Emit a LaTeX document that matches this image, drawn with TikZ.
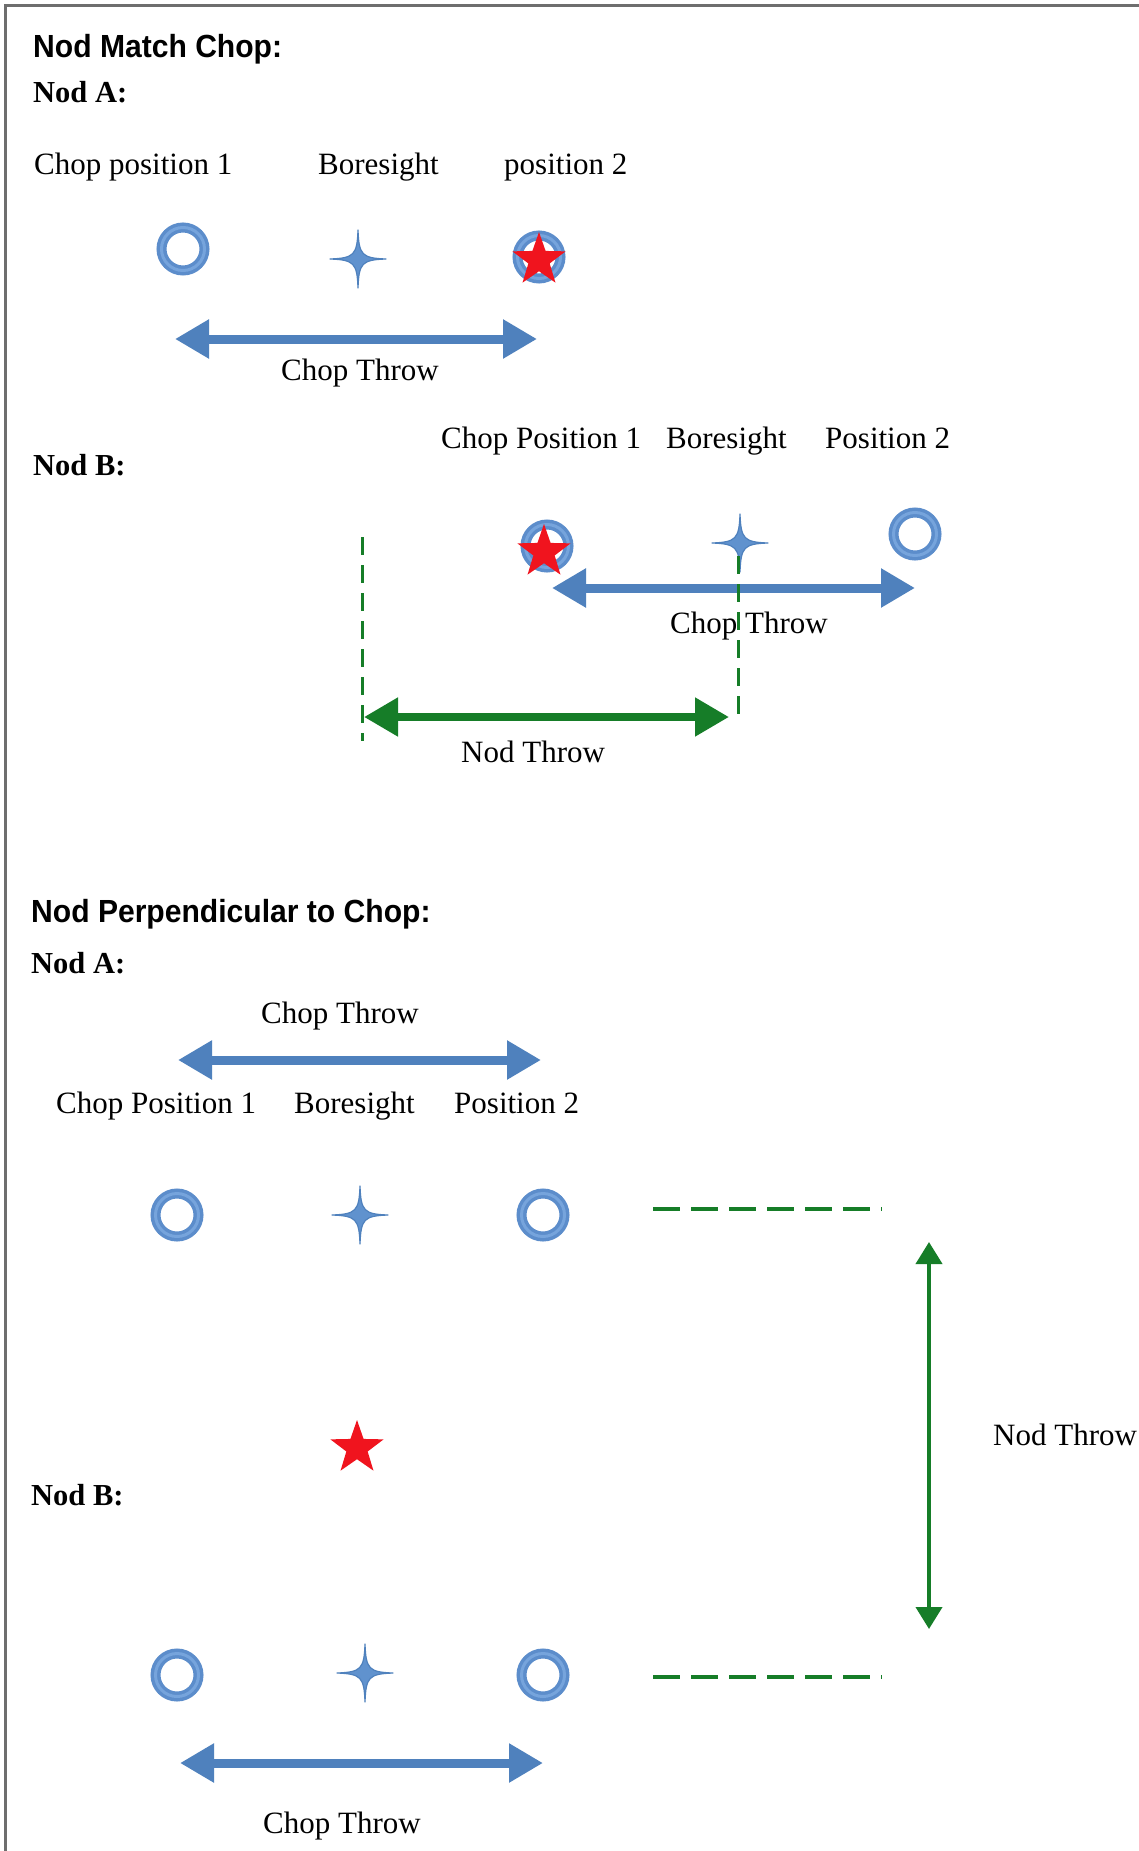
\documentclass[tikz,border=0pt]{standalone}
\usepackage{fontspec}
\setmainfont{Liberation Serif}
\newfontfamily\titlefont{Liberation Sans}[FakeStretch=0.94]
\usetikzlibrary{arrows.meta,shapes.geometric}
\definecolor{arrowblue}{RGB}{79,129,189}
\definecolor{ringblue}{RGB}{92,141,203}
\definecolor{ringlight}{RGB}{118,164,220}
\definecolor{crossfill}{RGB}{96,146,206}
\definecolor{starred}{RGB}{240,20,30}
\definecolor{dgreen}{RGB}{22,125,40}
\definecolor{framegray}{RGB}{110,110,110}
\begin{document}
\begin{tikzpicture}[x=1pt,y=-1pt,
  lbl/.style={font=\fontsize{31}{37}\selectfont, inner sep=0pt, anchor=base west},
  sublbl/.style={font=\bfseries\fontsize{30.5}{36}\selectfont, inner sep=0pt, anchor=base west},
  hdr/.style={font=\titlefont\bfseries\fontsize{32}{38}\selectfont, inner sep=0pt, anchor=base west},
  ring/.style={circle, draw=ringblue, line width=10pt, minimum size=43pt, inner sep=0pt,
    postaction={draw=ringlight, line width=3pt}},
  redstar/.style={star, star points=5, star point ratio=2.5, minimum size=56pt, inner sep=0pt,
    fill=starred, draw=none},
  bluethrow/.style={draw=arrowblue, line width=9pt, >={Triangle[length=34pt,width=37pt]}, <->},
  greenthrow/.style={draw=dgreen, line width=8pt, >={Triangle[length=34pt,width=37pt]}, <->},
  greenvthrow/.style={draw=dgreen, line width=4pt, >={Triangle[length=22pt,width=26pt]}, <->},
  vdash/.style={draw=dgreen, line width=3pt, dash pattern=on 18pt off 10pt},
  hdash/.style={draw=dgreen, line width=3.5pt, dash pattern=on 27pt off 11pt},
  sparkle/.pic={\draw[draw=arrowblue, fill=crossfill, line width=1.2pt, line join=round]
    (0,-29) .. controls (0.9,-4) and (4,-0.9) .. (28,0)
    .. controls (4,0.9) and (0.9,4) .. (0,29)
    .. controls (-0.9,4) and (-4,0.9) .. (-28,0)
    .. controls (-4,-0.9) and (-0.9,-4) .. (0,-29) -- cycle;}
]
\useasboundingbox (0,0) rectangle (1139,1851);
\fill[white] (0,0) rectangle (1139,1851);
% frame
\draw[framegray, line width=2.5pt] (5.5,1851) -- (5.5,5.5) -- (1139,5.5);

% ===== Section 1: Nod Match Chop =====
\node[hdr] (t1) at (33,58) {Nod Match Chop:};
\node[sublbl] (na1) at (33,103) {Nod A:};
\node[lbl] (l1a) at (34,175) {Chop position 1};
\node[lbl] (l1b) at (318,175) {Boresight};
\node[lbl] (l1c) at (504,175) {position 2};
\node[ring] (r1a) at (183,249) {};
\pic at (358,259) {sparkle};
\node[ring] (r1c) at (539,257) {};
\node[redstar] (s1) at (539,260) {};
\coordinate (a1l) at (175,339);
\coordinate (a1r) at (537,339);
\draw[bluethrow] (a1l) -- (a1r);
\node[lbl] (ct1) at (281,380) {Chop Throw};

\node[sublbl] (nb1) at (33,475) {Nod B:};
\node[lbl] (l2a) at (441,448) {Chop Position 1};
\node[lbl] (l2b) at (666,448) {Boresight};
\node[lbl] (l2c) at (825,448) {Position 2};
\coordinate (d1t) at (362,537);
\coordinate (d1b) at (362,741);
\coordinate (d2t) at (738,556);
\coordinate (d2b) at (738,715);
\draw[vdash] (d1t) -- (d1b);
\node[ring] (r2a) at (547,546) {};
\node[redstar] (s2) at (544,552) {};
\pic at (740,543) {sparkle};
\node[ring] (r2c) at (915,534) {};
\coordinate (a2l) at (552,588);
\coordinate (a2r) at (915,588);
\draw[bluethrow] (a2l) -- (a2r);
\draw[vdash] (d2t) -- (d2b);
\node[lbl] (ct2) at (670,633) {Chop Throw};
\coordinate (g1l) at (364,717);
\coordinate (g1r) at (729,717);
\draw[greenthrow] (g1l) -- (g1r);
\node[lbl] (nt1) at (461,762) {Nod Throw};

% ===== Section 2: Nod Perpendicular to Chop =====
\node[hdr] (t2) at (31,922) {Nod Perpendicular to Chop:};
\node[sublbl] (na2) at (31,973) {Nod A:};
\node[lbl] (ct3) at (261,1023) {Chop Throw};
\coordinate (a3l) at (178,1060);
\coordinate (a3r) at (541,1060);
\draw[bluethrow] (a3l) -- (a3r);
\node[lbl] (l3a) at (56,1113) {Chop Position 1};
\node[lbl] (l3b) at (294,1113) {Boresight};
\node[lbl] (l3c) at (454,1113) {Position 2};
\node[ring] (r3a) at (177,1215) {};
\pic at (360,1215) {sparkle};
\node[ring] (r3c) at (543,1215) {};
\coordinate (h1l) at (653,1209);
\coordinate (h1r) at (882,1209);
\draw[hdash] (h1l) -- (h1r);

\coordinate (gvt) at (929,1242);
\coordinate (gvb) at (929,1629);
\draw[greenvthrow] (gvt) -- (gvb);
\node[lbl] (nt2) at (993,1445) {Nod Throw};

\node[redstar] (s3) at (357,1448) {};
\node[sublbl] (nb2) at (31,1505) {Nod B:};
\node[ring] (r4a) at (177,1675) {};
\pic at (365,1673) {sparkle};
\node[ring] (r4c) at (543,1675) {};
\coordinate (h2l) at (653,1677);
\coordinate (h2r) at (882,1677);
\draw[hdash] (h2l) -- (h2r);
\coordinate (a4l) at (180,1763);
\coordinate (a4r) at (543,1763);
\draw[bluethrow] (a4l) -- (a4r);
\node[lbl] (ct4) at (263,1833) {Chop Throw};
\end{tikzpicture}
\end{document}
